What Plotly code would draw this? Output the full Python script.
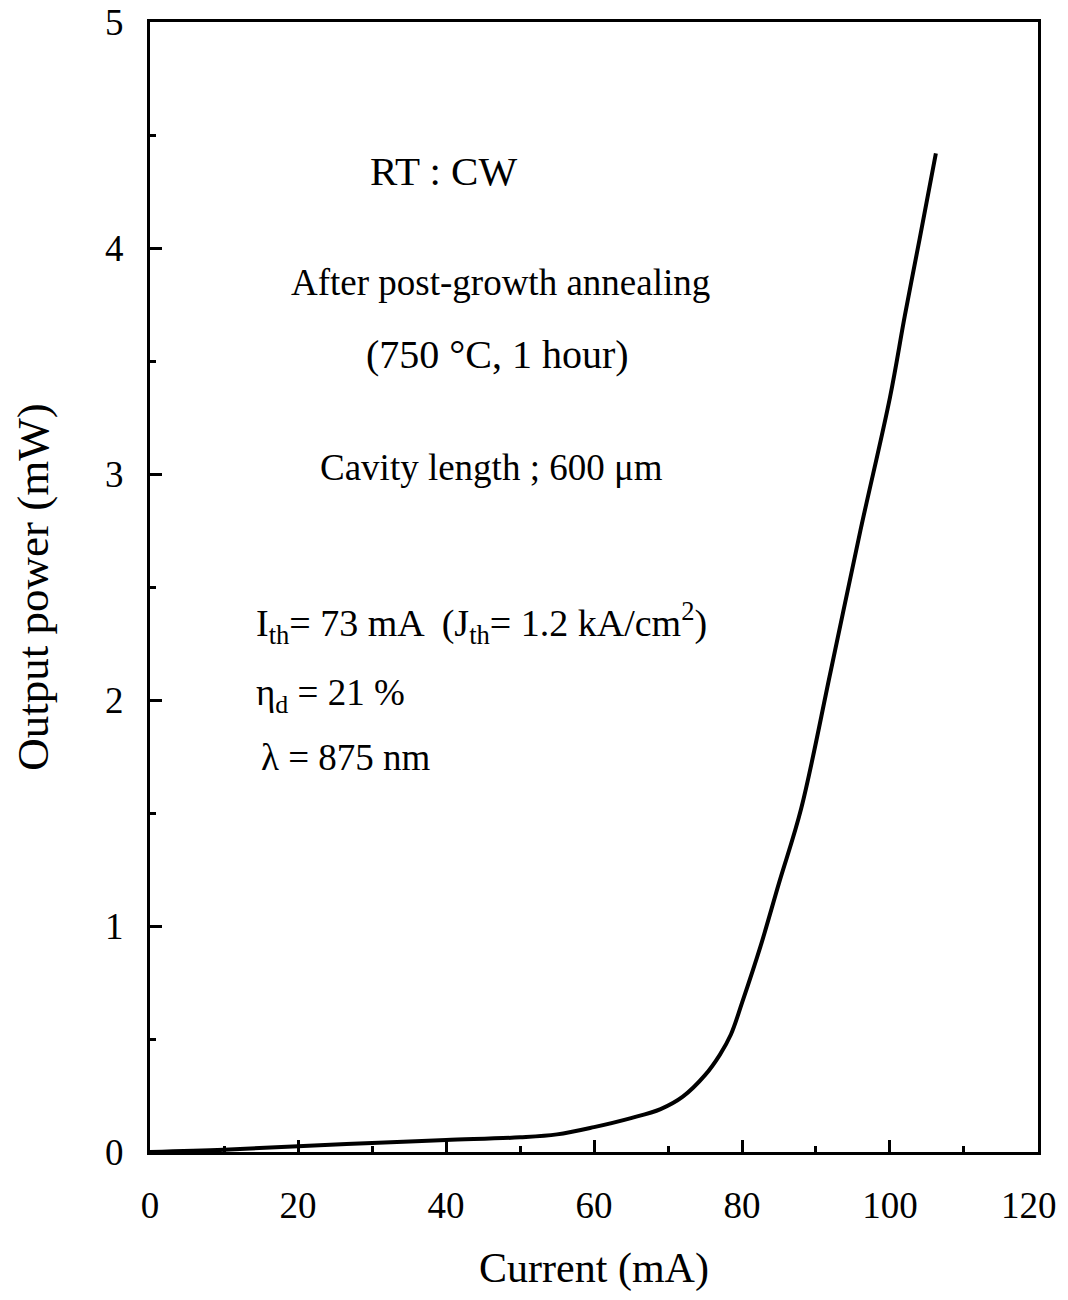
import plotly.graph_objects as go

# Data
current_mA = [0, 10, 20, 30, 40, 50, 55, 60, 65, 69, 72, 75, 77, 78.5, 80, 82.5, 85, 88, 92, 96, 100, 102, 104, 106.2]
power_mW = [0, 0.01, 0.025, 0.04, 0.053, 0.065, 0.078, 0.11, 0.15, 0.19, 0.245, 0.34, 0.43, 0.52, 0.66, 0.91, 1.19, 1.52, 2.13, 2.75, 3.34, 3.70, 4.04, 4.42]

x_ticks = [0, 20, 40, 60, 80, 100, 120]
y_ticks = [0, 1, 2, 3, 4, 5]

FONT = "Liberation Serif, Times New Roman, serif"

fig = go.Figure()
fig.add_trace(go.Scatter(
    x=current_mA, y=power_mW, mode="lines",
    line=dict(color="black", width=4, shape="spline", smoothing=1.0),
    showlegend=False, hoverinfo="skip",
))

ann_style = dict(showarrow=False, font=dict(family=FONT, size=37, color="black"))
fig.add_annotation(x=39.6, y=4.34, text="RT : CW", xanchor="center", yanchor="middle",
                   showarrow=False, font=dict(family=FONT, size=41, color="black"))
fig.add_annotation(x=47.3, y=3.85, text="After post-growth annealing", xanchor="center", yanchor="middle", **ann_style)
fig.add_annotation(x=47.0, y=3.53, text="(750 °C, 1 hour)", xanchor="center", yanchor="middle",
                   showarrow=False, font=dict(family=FONT, size=40, color="black"))
fig.add_annotation(x=46.2, y=3.03, text="Cavity length ; 600 μm", xanchor="center", yanchor="middle", **ann_style)
fig.add_annotation(x=14.0, y=2.34, text="I<sub>th</sub>= 73 mA  (J<sub>th</sub>= 1.2 kA/cm<sup>2</sup>)",
                   xanchor="left", yanchor="middle",
                   showarrow=False, font=dict(family=FONT, size=38, color="black"))
fig.add_annotation(x=14.0, y=2.02, text="η<sub>d</sub> = 21 %", xanchor="left", yanchor="middle", **ann_style)
fig.add_annotation(x=14.7, y=1.745, text="λ = 875 nm", xanchor="left", yanchor="middle", **ann_style)

axis_common = dict(
    showline=True, linecolor="black", linewidth=3, mirror=True,
    ticks="inside", ticklen=12, tickwidth=3, tickcolor="black",
    showgrid=False, zeroline=False, automargin=False,
    ticklabeloverflow="allow",
    tickfont=dict(family=FONT, size=37, color="black"),
)

# last x label nudged left (as in the reference) so it stays inside the window
x_ticktext = [str(v) for v in x_ticks]
x_ticktext[-1] = x_ticktext[-1] + "\u00a0\u00a0"

fig.update_xaxes(
    range=[0, 120.001], tickvals=x_ticks, ticktext=x_ticktext,
    minor=dict(ticks="inside", ticklen=6, tickwidth=3, tickcolor="black", dtick=10, tick0=0, showgrid=False),
    title=dict(text="Current (mA)", font=dict(family=FONT, size=42, color="black"), standoff=44),
    ticklabelstandoff=19,
    **axis_common,
)
fig.update_yaxes(
    range=[0, 5.001], tickvals=y_ticks, ticktext=[str(v) for v in y_ticks],
    minor=dict(ticks="inside", ticklen=6, tickwidth=3, tickcolor="black", dtick=0.5, tick0=0, showgrid=False),
    title=dict(text="Output power (mW)", font=dict(family=FONT, size=45, color="black"), standoff=44),
    ticklabelstandoff=16,
    **axis_common,
)

# The page adds an 8 px body margin, so the figure is sized to fit the 1068x1300 window
fig.update_layout(
    width=1060, height=1284,
    margin=dict(l=142, r=30, t=14, b=140),
    paper_bgcolor="white", plot_bgcolor="white",
)

fig.write_html("out.html")
